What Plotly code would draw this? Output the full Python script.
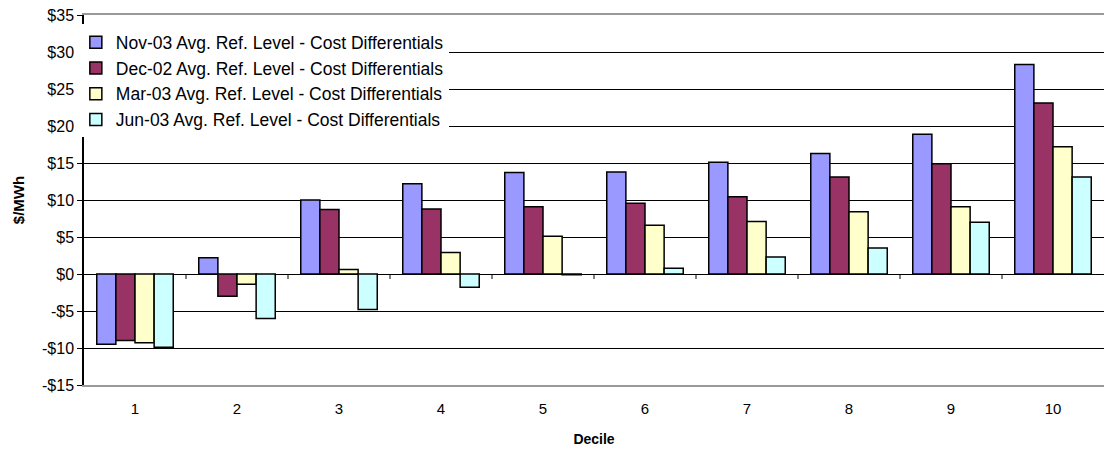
import plotly.graph_objects as go

deciles = ["1", "2", "3", "4", "5", "6", "7", "8", "9", "10"]

nov_03 = [-9.5, 2.2, 10.0, 12.2, 13.7, 13.8, 15.1, 16.3, 18.9, 28.3]
dec_02 = [-9.0, -3.0, 8.7, 8.8, 9.1, 9.55, 10.45, 13.1, 14.9, 23.1]
mar_03 = [-9.3, -1.4, 0.6, 2.9, 5.1, 6.6, 7.1, 8.4, 9.1, 17.2]
jun_03 = [-9.9, -6.0, -4.8, -1.8, -0.1, 0.77, 2.3, 3.5, 7.0, 13.1]

series_names = [
    "Nov-03 Avg. Ref. Level - Cost Differentials",
    "Dec-02 Avg. Ref. Level - Cost Differentials",
    "Mar-03 Avg. Ref. Level - Cost Differentials",
    "Jun-03 Avg. Ref. Level - Cost Differentials",
]
series_colors = ["#9999FF", "#993366", "#FFFFCC", "#CCFFFF"]

y_ticks = [-15, -10, -5, 0, 5, 10, 15, 20, 25, 30, 35]
y_tick_text = [("-$" if v < 0 else "$") + str(abs(v)) for v in y_ticks]

FONT = "Liberation Sans, Arial, sans-serif"

fig = go.Figure()
for i, (name, vals, col) in enumerate(zip(series_names, [nov_03, dec_02, mar_03, jun_03], series_colors)):
    fig.add_trace(go.Bar(
        x=deciles, y=vals, name=name, legendgroup=f"g{i}",
        marker=dict(color=col, line=dict(color="#000000", width=1.5)),
    ))

# small category separator ticks along the zero line
for i in range(len(deciles) - 1):
    fig.add_shape(
        type="line", xref="x", yref="y", ysizemode="pixel", yanchor=0,
        x0=i + 0.5, x1=i + 0.5, y0=0, y1=-5,
        line=dict(color="#000000", width=1),
    )

fig.update_layout(
    width=1106, height=450,
    margin=dict(l=84, r=2, t=15, b=65),
    paper_bgcolor="white", plot_bgcolor="white",
    font=dict(family=FONT, size=15, color="#000000"),
    barmode="group", bargap=0.25, bargroupgap=0,
    legend=dict(
        x=-0.008, y=0.975, xanchor="left", yanchor="top",
        bgcolor="white", borderwidth=0,
        font=dict(family=FONT, size=17.5, color="#000000"),
        tracegroupgap=0, itemwidth=30,
    ),
    xaxis=dict(
        title=dict(text="<b>Decile</b>", font=dict(size=14), standoff=18),
        showgrid=False, showline=True, linecolor="#999999", linewidth=1.5,
        mirror=True, ticks="outside", ticklen=9, tickcolor="rgba(0,0,0,0)",
        tickfont=dict(size=15),
    ),
    yaxis=dict(
        title=dict(text="<b>$/MWh</b>", font=dict(size=15), standoff=14),
        range=[-15, 35], tickvals=y_ticks, ticktext=y_tick_text,
        showgrid=True, gridcolor="#000000", gridwidth=1,
        showline=True, linecolor="#000000", linewidth=1.5,
        ticks="outside", ticklen=5, tickcolor="#000000",
        zeroline=True, zerolinecolor="#000000", zerolinewidth=1,
        tickfont=dict(size=16),
    ),
)

fig.write_html("out.html")
